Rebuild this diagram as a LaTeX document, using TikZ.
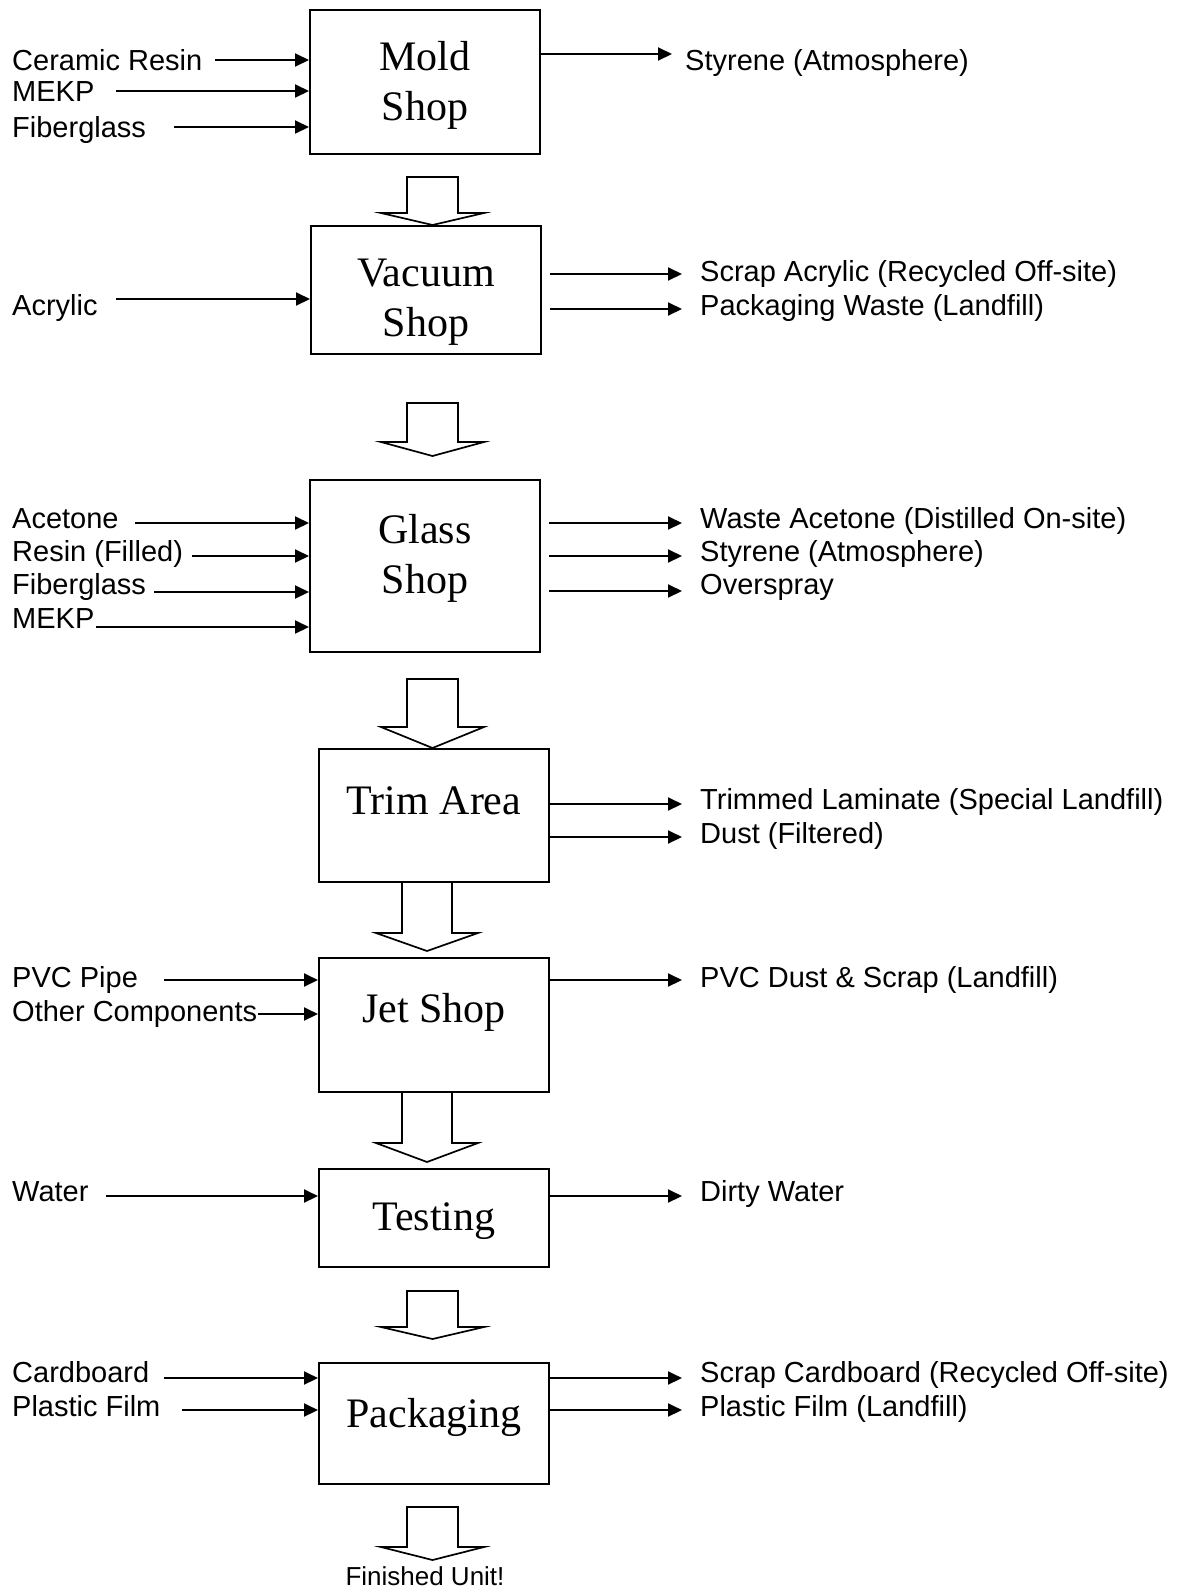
\documentclass[tikz,border=0pt]{standalone}
\usepackage{fontspec}
\setmainfont{Liberation Serif}
\setsansfont{Liberation Sans}
\usetikzlibrary{arrows.meta,calc}

% hollow block arrow: centre x, half shaft, half head, top, head base, tip
\newcommand{\bigdown}[6]{%
	\draw[line width=1.7pt,line join=miter] (#1-#2,#4) -- (#1+#2,#4) -- (#1+#2,#5) -- (#1+#3,#5) -- (#1,#6) -- (#1-#3,#5) -- (#1-#2,#5) -- cycle;}

\begin{document}
\begin{tikzpicture}[x=1pt,y=-1pt,
		shop/.style={draw,line width=2pt,anchor=north west,minimum width=230pt,inner sep=0pt},
		shoptext/.style={font=\fontsize{42}{50}\selectfont,align=center},
		item/.style={anchor=base west,inner sep=0pt,font=\sffamily\fontsize{29}{34}\selectfont},
		flow/.style={-{Triangle[length=14pt,width=13pt]},line width=2pt}]
		\useasboundingbox (0,0) rectangle (1178,1588);

		% process boxes
		\node[shop,minimum height=144pt,label={[shoptext,yshift=-3pt]center:Mold\\Shop}] (mold) at (309,9) {};
		\node[shop,minimum height=128pt,label={[shoptext,yshift=-12pt]center:Vacuum\\Shop}] (vacuum) at (310,225) {};
		\node[shop,minimum height=172pt,label={[shoptext,yshift=8pt]center:Glass\\Shop}] (glass) at (309,479) {};
		\node[shop,minimum height=133pt,label={[shoptext,yshift=15pt]center:Trim Area}] (trim) at (318,748) {};
		\node[shop,minimum height=134pt,label={[shoptext,yshift=13pt]center:Jet Shop}] (jet) at (318,957) {};
		\node[shop,minimum height=98pt,label={[shoptext,yshift=-3pt]center:Testing}] (testing) at (318,1168) {};
		\node[shop,minimum height=121pt,label={[shoptext,yshift=6pt]center:Packaging}] (packaging) at (318,1362) {};

		% flow between shops
		\bigdown{432.5}{25.5}{51.5}{177}{213}{225}
		\bigdown{432.5}{25.5}{51.5}{403}{442}{456}
		\bigdown{432.5}{25.5}{51.5}{679}{727}{748}
		\bigdown{427}{25}{51}{882}{933}{951}
		\bigdown{427}{25}{51}{1092}{1143}{1162}
		\bigdown{432.5}{25.5}{51.5}{1291}{1327}{1339}
		\bigdown{432.5}{25.5}{51.5}{1507}{1547}{1560}
		\node[item,anchor=base,font=\sffamily\fontsize{26}{30}\selectfont] (done) at (425,1585) {Finished Unit!};

		% mold shop
		\node[item] (resin1) at (12,70) {Ceramic Resin};
		\node[item] (mekp1) at (12,101) {MEKP};
		\node[item] (fiber1) at (12,137) {Fiberglass};
		\node[item] (styrene1) at (685,70) {Styrene (Atmosphere)};
		\coordinate (a1) at (215,60);
		\coordinate (a2) at (116,91);
		\coordinate (a3) at (174,127);
		\coordinate (b1) at (672,54);
		\draw[flow] (a1) -- (a1 -| mold.west);
		\draw[flow] (a2) -- (a2 -| mold.west);
		\draw[flow] (a3) -- (a3 -| mold.west);
		\draw[flow] (mold.east |- b1) -- (b1);

		% vacuum shop
		\node[item] (acrylic) at (12,315) {Acrylic};
		\node[item] (scrap1) at (700,281) {Scrap Acrylic (Recycled Off-site)};
		\node[item] (pack1) at (700,315) {Packaging Waste (Landfill)};
		\coordinate (a4) at (116,299);
		\coordinate (b2) at (682,274);
		\coordinate (b3) at (682,309);
		\draw[flow] (a4) -- (a4 -| vacuum.west);
		\draw[flow] ($(vacuum.east |- b2)+(8,0)$) -- (b2);
		\draw[flow] ($(vacuum.east |- b3)+(8,0)$) -- (b3);

		% glass shop
		\node[item] (acetone) at (12,528) {Acetone};
		\node[item] (resin2) at (12,561) {Resin (Filled)};
		\node[item] (fiber2) at (12,594) {Fiberglass};
		\node[item] (mekp2) at (12,628) {MEKP};
		\node[item] (wasteac) at (700,528) {Waste Acetone (Distilled On-site)};
		\node[item] (styrene2) at (700,561) {Styrene (Atmosphere)};
		\node[item] (spray) at (700,594) {Overspray};
		\coordinate (a5) at (135,523);
		\coordinate (a6) at (192,556);
		\coordinate (a7) at (154,592);
		\coordinate (a8) at (96,627);
		\coordinate (b4) at (682,523);
		\coordinate (b5) at (682,556);
		\coordinate (b6) at (682,591);
		\draw[flow] (a5) -- (a5 -| glass.west);
		\draw[flow] (a6) -- (a6 -| glass.west);
		\draw[flow] (a7) -- (a7 -| glass.west);
		\draw[flow] (a8) -- (a8 -| glass.west);
		\draw[flow] ($(glass.east |- b4)+(8,0)$) -- (b4);
		\draw[flow] ($(glass.east |- b5)+(8,0)$) -- (b5);
		\draw[flow] ($(glass.east |- b6)+(8,0)$) -- (b6);

		% trim area
		\node[item] (lam) at (700,809) {Trimmed Laminate (Special Landfill)};
		\node[item] (dust) at (700,843) {Dust (Filtered)};
		\coordinate (b7) at (682,804);
		\coordinate (b8) at (682,837);
		\draw[flow] (trim.east |- b7) -- (b7);
		\draw[flow] (trim.east |- b8) -- (b8);

		% jet shop
		\node[item] (pipe) at (12,987) {PVC Pipe};
		\node[item] (other) at (12,1021) {Other Components};
		\node[item] (pvc) at (700,987) {PVC Dust \& Scrap (Landfill)};
		\coordinate (a9) at (164,980);
		\coordinate (a10) at (258,1014);
		\coordinate (b9) at (682,980);
		\draw[flow] (a9) -- (a9 -| jet.west);
		\draw[flow] (a10) -- (a10 -| jet.west);
		\draw[flow] (jet.east |- b9) -- (b9);

		% testing
		\node[item] (water) at (12,1201) {Water};
		\node[item] (dirty) at (700,1201) {Dirty Water};
		\coordinate (a11) at (106,1196);
		\coordinate (b10) at (682,1196);
		\draw[flow] (a11) -- (a11 -| testing.west);
		\draw[flow] (testing.east |- b10) -- (b10);

		% packaging
		\node[item] (card) at (12,1382) {Cardboard};
		\node[item] (film) at (12,1416) {Plastic Film};
		\node[item] (scrap2) at (700,1382) {Scrap Cardboard (Recycled Off-site)};
		\node[item] (film2) at (700,1416) {Plastic Film (Landfill)};
		\coordinate (a12) at (164,1378);
		\coordinate (a13) at (182,1410);
		\coordinate (b11) at (682,1378);
		\coordinate (b12) at (682,1410);
		\draw[flow] (a12) -- (a12 -| packaging.west);
		\draw[flow] (a13) -- (a13 -| packaging.west);
		\draw[flow] (packaging.east |- b11) -- (b11);
		\draw[flow] (packaging.east |- b12) -- (b12);
	\end{tikzpicture}
\end{document}
